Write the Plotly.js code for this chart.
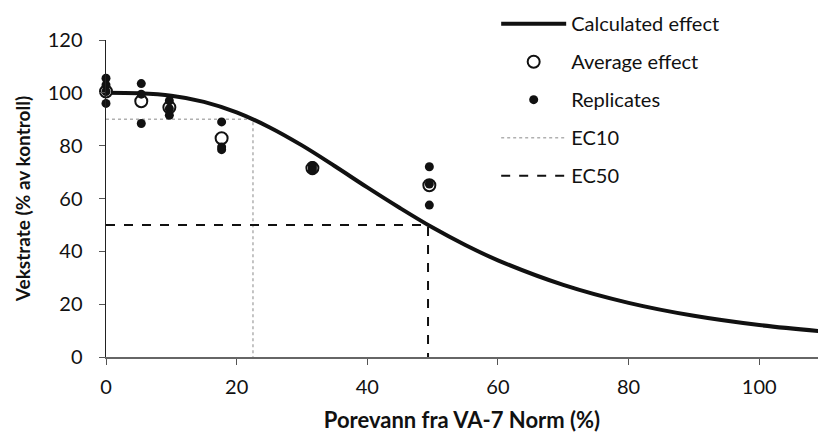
<!DOCTYPE html>
<html>
<head>
<meta charset="utf-8">
<script src="https://cdn.plot.ly/plotly-3.0.1.min.js"></script>
<style>html,body{margin:0;padding:0;background:#fff;}#chart{width:818px;height:443px;}</style>
</head>
<body>
<div id="chart"></div>
<script>
// Concentrations (% porewater) and mean effect
const conc = [0, 5.4, 9.7, 17.7, 31.6, 49.5];
const avgEffect = [100.5, 96.8, 94.5, 82.8, 71.5, 65];
// Replicates
const repX = [0, 0, 0, 0, 5.4, 5.4, 5.4, 9.7, 9.7, 9.7, 17.7, 17.7, 17.7, 31.6, 31.6, 31.6, 49.5, 49.5, 49.5];
const repY = [105.5, 103, 100.5, 96, 103.5, 99.5, 88.4, 97, 94, 91.5, 89, 79.5, 78.5, 72.5, 71.5, 70.5, 72, 65.5, 57.5];
// Calculated effect curve
const curveX = [0, 5, 10, 15, 20, 25, 30, 35, 40, 45, 50, 55, 60, 70, 80, 90, 100, 110];
const curveY = [100, 99.8, 98.9, 96.6, 92.6, 87, 80.1, 72.3, 64.2, 56.4, 49, 42.4, 36.6, 27.3, 20.5, 15.6, 12.1, 9.6];
// EC values
const ec10 = 22.5, ec10Y = 90;
const ec50 = 49.3, ec50Y = 50;
const xTicks = [0, 20, 40, 60, 80, 100];
const yTicks = [0, 20, 40, 60, 80, 100, 120];

const FONT = 'Lato, "Open Sans", sans-serif';
const traces = [
  {x: [0, ec10, ec10], y: [ec10Y, ec10Y, 0], mode: 'lines', name: 'EC10', legendrank: 4,
   line: {color: '#b0b0b0', width: 1.5, dash: 'dot'}},
  {x: [0, ec50, ec50], y: [ec50Y, ec50Y, 0], mode: 'lines', name: 'EC50', legendrank: 5,
   line: {color: '#111', width: 2, dash: 'dash'}},
  {x: curveX, y: curveY, mode: 'lines', name: 'Calculated effect', legendrank: 1,
   line: {color: '#111', width: 4, shape: 'spline'}},
  {x: conc, y: avgEffect, mode: 'markers', name: 'Average effect', legendrank: 2, cliponaxis: false,
   marker: {symbol: 'circle', size: 12, color: '#fff', line: {color: '#111', width: 2}}},
  {x: repX, y: repY, mode: 'markers', name: 'Replicates', legendrank: 3, cliponaxis: false,
   marker: {symbol: 'circle', size: 9, color: '#111'}}
];

const layout = {
  width: 818, height: 443,
  margin: {l: 106, r: 0, t: 40, b: 86},
  paper_bgcolor: '#fff', plot_bgcolor: '#fff',
  font: {family: FONT, size: 20, color: '#111'},
  showlegend: true,
  legend: {x: 0.548, y: 1.113, xanchor: 'left', yanchor: 'top', bgcolor: 'rgba(0,0,0,0)',
    font: {size: 20, family: FONT, color: '#111'}, itemwidth: 65, tracegroupgap: 9,
    traceorder: 'grouped'},
  xaxis: {range: [0, 109], tickvals: xTicks, ticktext: xTicks.map(String), ticks: 'outside', ticklen: 6,
    tickcolor: '#555', showline: true, linecolor: '#666', linewidth: 1.5, showgrid: false, zeroline: false,
    ticklabelstandoff: 5,
    title: {text: '<b>Porevann fra VA-7 Norm (%)</b>', font: {size: 22, family: FONT}, standoff: 16}},
  yaxis: {range: [0, 120], tickvals: yTicks, ticktext: yTicks.map(String), ticks: 'outside', ticklen: 6,
    tickcolor: '#555', showline: true, linecolor: '#222', linewidth: 1.5, showgrid: false, zeroline: false,
    ticklabelstandoff: 12,
    title: {text: '<b>Vekstrate (% av kontroll)</b>', font: {size: 19, family: FONT}, standoff: 12}}
};
traces.forEach((t, i) => { t.legendgroup = 'g' + t.legendrank; });
Plotly.newPlot('chart', traces, layout, {displayModeBar: false, staticPlot: true});
</script>
</body>
</html>
